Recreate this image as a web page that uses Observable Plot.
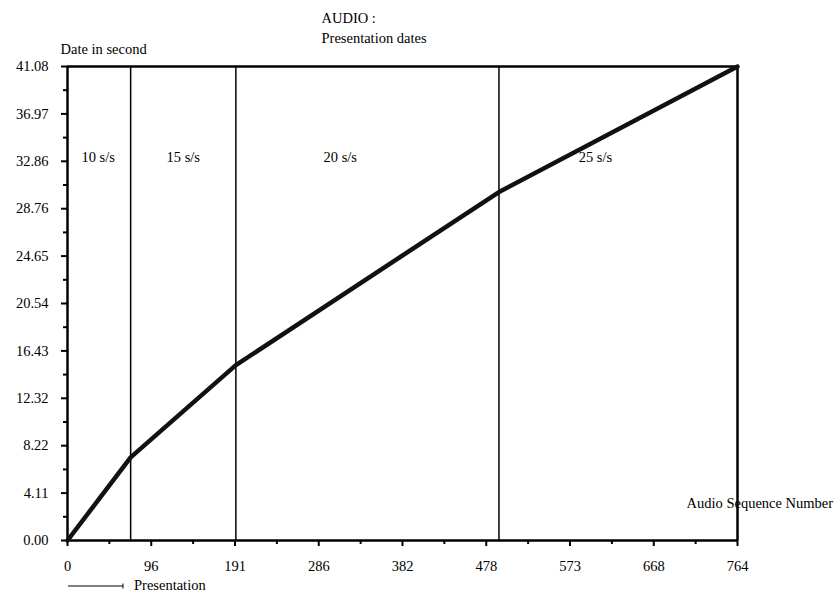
<!DOCTYPE html>
<html>
<head>
<meta charset="utf-8">
<script src="https://cdn.jsdelivr.net/npm/d3@7"></script>
<script src="https://cdn.jsdelivr.net/npm/@observablehq/plot@0.6"></script>
<style>
  html, body { margin: 0; padding: 0; background: #fff; }
</style>
</head>
<body>
<div id="chart"></div>
<script>
// Breakpoints of the presentation-date curve (sequence number, date in s)
const seqNumbers = [0, 72, 192, 492, 764];
const dates      = [0, 7.2, 15.2, 30.2, 41.08];

// Rate changes (vertical separators)
const rateChanges = [72, 192, 492];

// Rate labels
const rateLabels = ["10 s/s", "15 s/s", "20 s/s", "25 s/s"];
const rateLabelX = [35, 132, 311, 602];
const rateLabelY = [33.2, 33.2, 33.2, 33.2];

// Axis ticks
const xTickValues = [0, 95.5, 191, 286.5, 382, 477.5, 573, 668.5, 764];
const xTickLabels = ["0", "96", "191", "286", "382", "478", "573", "668", "764"];
const yTickValues = [0, 4.108, 8.216, 12.324, 16.432, 20.54, 24.648, 28.756, 32.864, 36.972, 41.08];
const yTickLabels = ["0.00", "4.11", "8.22", "12.32", "16.43", "20.54", "24.65", "28.76", "32.86", "36.97", "41.08"];

const curve = seqNumbers.map((s, i) => ({seq: s, date: dates[i]}));
const labels = rateLabels.map((t, i) => ({text: t, x: rateLabelX[i], y: rateLabelY[i]}));
const xMinor = xTickValues.slice(0, -1).map((v, i) => (v + xTickValues[i + 1]) / 2);
const yMinor = yTickValues.slice(0, -1).map((v, i) => (v + yTickValues[i + 1]) / 2);

const chart = Plot.plot({
  width: 838,
  height: 592,
  marginLeft: 67,
  marginRight: 101,
  marginTop: 66,
  marginBottom: 52,
  style: {fontFamily: "'Liberation Serif', 'DejaVu Serif', serif", fontSize: "14.5px", color: "#000", background: "#fff"},
  x: {domain: [0, 764]},
  y: {domain: [0, 41.08]},
  marks: [
    Plot.axisX({ticks: xTickValues, tickFormat: (d, i) => xTickLabels[i], tickSize: 6, tickPadding: 14, strokeWidth: 2, label: null, fontSize: 14.5}),
    Plot.axisX({ticks: xMinor, tickFormat: null, text: null, tickSize: 4, strokeWidth: 2, label: null}),
    Plot.axisY({ticks: yTickValues, tickFormat: (d, i) => yTickLabels[i], tickSize: 6, tickPadding: 13, strokeWidth: 2, label: null, fontSize: 14.5}),
    Plot.axisY({ticks: yMinor, tickFormat: null, text: null, tickSize: 4, strokeWidth: 2, label: null}),
    Plot.ruleX(rateChanges, {stroke: "#000", strokeWidth: 1.5}),
    Plot.ruleY([0, 41.08], {stroke: "#000", strokeWidth: 2.5}),
    Plot.ruleX([0, 764], {stroke: "#000", strokeWidth: 2.5}),
    Plot.line(curve, {x: "seq", y: "date", stroke: "#111", strokeWidth: 4.5, strokeLinejoin: "round"}),
    Plot.text(labels, {x: "x", y: "y", text: "text", fontSize: 14.5, fill: "#000"}),
    Plot.text(["AUDIO :"], {frameAnchor: "top-left", dx: 254, dy: -48, textAnchor: "start", lineAnchor: "middle", fontSize: 14.5}),
    Plot.text(["Presentation dates"], {frameAnchor: "top-left", dx: 254, dy: -28, textAnchor: "start", lineAnchor: "middle", fontSize: 14.5}),
    Plot.text(["Date in second"], {frameAnchor: "top-left", dx: -7, dy: -17, textAnchor: "start", lineAnchor: "middle", fontSize: 14.5}),
    Plot.text(["Audio Sequence Number"], {frameAnchor: "bottom-right", dx: -51, dy: -37, textAnchor: "start", lineAnchor: "middle", fontSize: 14.5})
  ]
});

document.getElementById("chart").appendChild(chart);

// Legend (bottom-left)
const svg = d3.select(chart);
const g = svg.append("g").attr("stroke", "#000");
g.append("line").attr("x1", 68).attr("x2", 123).attr("y1", 586).attr("y2", 586).attr("stroke-width", 1.2);
g.append("line").attr("x1", 123).attr("x2", 123).attr("y1", 583.5).attr("y2", 588.5).attr("stroke-width", 1);
svg.append("text").attr("x", 134).attr("y", 585).attr("dy", "0.32em")
  .attr("text-anchor", "start")
  .attr("font-size", 14.5).attr("fill", "#000").text("Presentation");
</script>
</body>
</html>
